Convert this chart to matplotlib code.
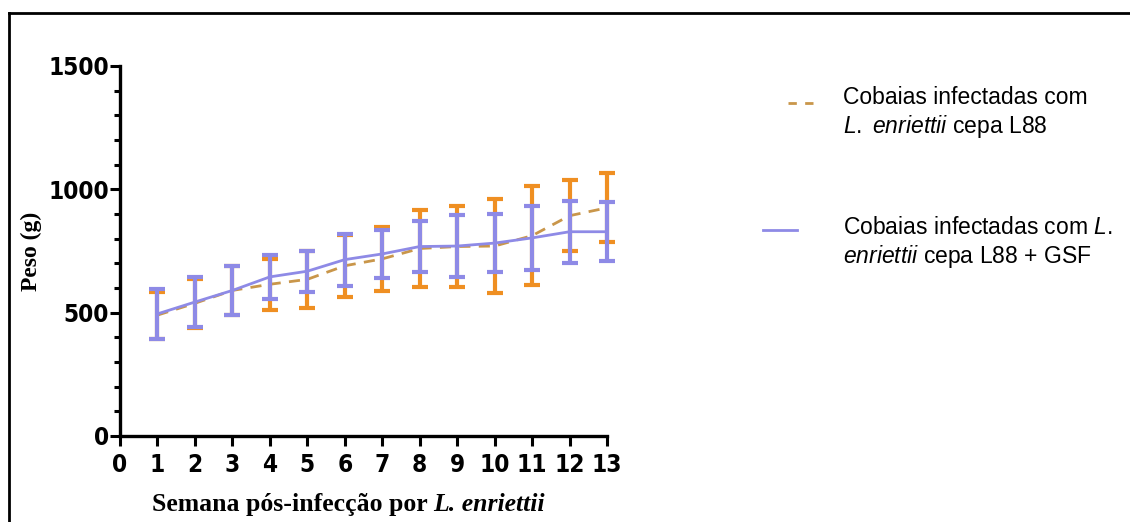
import matplotlib
matplotlib.use("Agg")
import matplotlib.pyplot as plt
from matplotlib.lines import Line2D
from matplotlib.ticker import MultipleLocator

plt.rcParams['mathtext.fontset'] = 'custom'
plt.rcParams['mathtext.rm'] = 'Liberation Sans'
plt.rcParams['mathtext.it'] = 'Liberation Sans:italic'

# dados
semanas = [1, 2, 3, 4, 5, 6, 7, 8, 9, 10, 11, 12, 13]
peso_l88 = [490, 538, 590, 615, 635, 690, 718, 760, 768, 770, 812, 893, 925]
dp_l88 = [95, 100, 98, 103, 115, 125, 130, 155, 165, 190, 200, 145, 140]
peso_gsf = [495, 543, 590, 645, 668, 715, 738, 768, 770, 782, 803, 828, 828]
dp_gsf = [100, 102, 100, 88, 83, 105, 97, 105, 125, 118, 130, 125, 120]

laranja = '#EF8F22'
laranja_linha = '#C9964A'
lilas = '#8E8AE6'

fig = plt.figure(figsize=(11.3, 5.22), dpi=100)
ax = fig.add_axes([0.1062, 0.1648, 0.4310, 0.7088])

for art in [
    ax.errorbar(semanas, peso_l88, yerr=dp_l88, color=laranja_linha, ecolor=laranja,
                linestyle=(0, (4, 3)), linewidth=2, elinewidth=3, capsize=6, capthick=3, zorder=2),
    ax.errorbar(semanas, peso_gsf, yerr=dp_gsf, color=lilas, ecolor=lilas,
                linestyle='-', linewidth=2, elinewidth=3, capsize=6, capthick=3, zorder=3),
]:
    for ch in art.get_children():
        ch.set_clip_on(False)

ax.set_xlim(0, 13)
ax.set_ylim(0, 1500)
ax.set_xticks(range(0, 14))
ax.yaxis.set_major_locator(MultipleLocator(500))
ax.yaxis.set_minor_locator(MultipleLocator(100))

for s in ['top', 'right']:
    ax.spines[s].set_visible(False)
for s in ['left', 'bottom']:
    ax.spines[s].set_linewidth(2.4)
    ax.spines[s].set_color('black')

ax.tick_params(axis='both', which='major', length=7, width=2.2, color='black')
ax.tick_params(axis='y', which='minor', length=4, width=2.2)
ax.tick_params(axis='x', pad=5)
ax.tick_params(axis='y', pad=1)
for lab in ax.get_xticklabels() + ax.get_yticklabels():
    lab.set_family(['DejaVu Sans'])
    lab.set_fontstretch('condensed')
    lab.set_fontweight('bold')
    lab.set_fontsize(17.5)

ax.set_ylabel('Peso (g)', family='Liberation Serif', fontweight='bold', fontsize=17, labelpad=4.5)

# rótulo do eixo x com parte em itálico
t1 = fig.text(0.1345, 0.022, 'Semana pós-infecção por ', family='Liberation Serif',
              fontweight='bold', fontsize=18.5, ha='left', va='baseline')
ax.annotate('L. enriettii', xy=(1, 0), xycoords=t1, va='bottom', ha='left',
            family='Liberation Serif', fontweight='bold', fontstyle='italic', fontsize=18.5,
            annotation_clip=False)

# legenda manual
fig.add_artist(Line2D([0.697, 0.726], [0.803, 0.803], color=laranja_linha,
                      linestyle=(0, (3, 3)), linewidth=2))
fig.text(0.746, 0.836, 'Cobaias infectadas com\n$\\it{L.\\ enriettii}$ cepa L88',
         family='Liberation Sans', fontsize=16.5, ha='left', va='top', linespacing=1.2)
fig.add_artist(Line2D([0.675, 0.705], [0.559, 0.559], color=lilas,
                      linestyle='-', linewidth=2))
fig.text(0.746, 0.587, 'Cobaias infectadas com $\\it{L.}$\n$\\it{enriettii}$ cepa L88 + GSF',
         family='Liberation Sans', fontsize=16.5, ha='left', va='top', linespacing=1.2)

# moldura (só topo e esquerda visíveis)
fig.add_artist(Line2D([0.008, 1.0], [0.975, 0.975], color='black', linewidth=2))
fig.add_artist(Line2D([0.008, 0.008], [0.0, 0.975], color='black', linewidth=2))

fig.savefig('out.png', dpi=100)
